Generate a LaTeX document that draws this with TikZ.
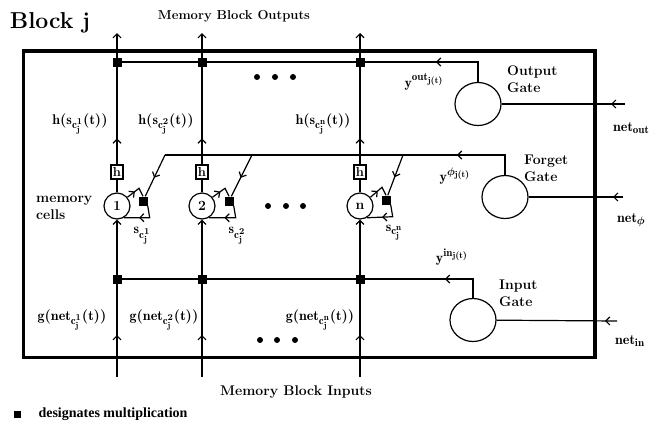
\documentclass[tikz,border=0pt]{standalone}
\usepackage{amsmath}
\usepackage{fontspec}
\newfontfamily\legendfont{Liberation Serif}
\DeclareMathSizes{14}{14}{11}{9}
\usetikzlibrary{arrows.meta, calc, shapes.geometric, decorations.markings}

\begin{document}
\begin{tikzpicture}[
    x=1pt, y=-1pt,
    >={Straight Barb[length=4pt,width=8pt]},
    wire/.style={line width=1.2pt},
    blockframe/.style={line width=3.5pt},
    mult/.style={fill=black, minimum size=9pt, inner sep=0pt},
    cell/.style={circle, draw, line width=1.2pt, minimum size=26pt, inner sep=0pt, font=\fontsize{14}{16}\selectfont\bfseries},
    hbox/.style={draw, line width=1.2pt, minimum width=12pt, minimum height=14pt, inner sep=0pt, font=\fontsize{13}{15}\selectfont\bfseries},
    gate/.style={ellipse, draw, line width=1.2pt, minimum width=46pt, minimum height=43pt},
    lab/.style={font=\fontsize{14}{17}\selectfont\bfseries\boldmath, inner sep=0pt},
    midarrow/.style={postaction={decorate}, decoration={markings, mark=at position #1 with {\arrow{>}}}}
]
\useasboundingbox (0,0) rectangle (655,421);

% Title and headings
\node[font=\fontsize{23}{26}\selectfont\bfseries] (title) at (50,23) {Block j};
\node[font=\fontsize{13}{15}\selectfont\bfseries] (outputs) at (234,16) {Memory Block Outputs};
\node[font=\fontsize{14}{16}\selectfont\bfseries] (inputs) at (296,392) {Memory Block Inputs};

% Memory block frame
\draw[blockframe] (23.5,51) rectangle (595,357.5);

% Memory cell 1
\node[mult] (omult1) at (117,62) {};
\node[hbox] (hbox1) at (117,172) {h};
\node[cell] (cell1) at (117,206) {1};
\node[mult] (fmult1) at (143,201) {};
\node[mult] (imult1) at (117,279) {};
\coordinate (top1) at (117,33);
\coordinate (bot1) at (117,377);
\coordinate (fork1) at (165,155);

% Memory cell 2
\node[mult] (omult2) at (202,62) {};
\node[hbox] (hbox2) at (202,172) {h};
\node[cell] (cell2) at (202,206) {2};
\node[mult] (fmult2) at (229,201) {};
\node[mult] (imult2) at (202,279) {};
\coordinate (top2) at (202,33);
\coordinate (bot2) at (202,377);
\coordinate (fork2) at (252,155);

% Memory cell n
\node[mult] (omultn) at (360,62) {};
\node[hbox] (hboxn) at (360,172) {h};
\node[cell] (celln) at (360,206) {n};
\node[mult] (fmultn) at (386,200) {};
\node[mult] (imultn) at (360,279) {};
\coordinate (topn) at (360,33);
\coordinate (botn) at (360,377);
\coordinate (forkn) at (403,155);

% Gates
\node[gate] (ogate) at (478,104) {};
\node[gate] (fgate) at (505,197) {};
\node[gate] (igate) at (473,320) {};
\coordinate (nout) at (625,104);
\coordinate (nphi) at (623,197);
\coordinate (nin) at (617,321);

% Cell columns: input -> cell -> h -> output
\draw[wire, ->, midarrow=42pt] (bot1) -- (cell1);
\draw[wire] (cell1) -- (hbox1);
\draw[wire, ->, midarrow=26pt] (hbox1) -- (top1);
\draw[wire, ->, midarrow=42pt] (bot2) -- (cell2);
\draw[wire] (cell2) -- (hbox2);
\draw[wire, ->, midarrow=26pt] (hbox2) -- (top2);
\draw[wire, ->, midarrow=42pt] (botn) -- (celln);
\draw[wire] (celln) -- (hboxn);
\draw[wire, ->, midarrow=26pt] (hboxn) -- (topn);

% Self-recurrent loops through forget multiplication
\draw[wire, midarrow=0.4] (cell1.40) -- ($(fmult1.north)+(-4,-8)$) -- (fmult1.north);
\draw[wire, midarrow=0.6] (fmult1.south east) -- ++(2,12) -- (cell1.-60);
\draw[wire, midarrow=0.4] (cell2.40) -- ($(fmult2.north)+(-4,-8)$) -- (fmult2.north);
\draw[wire, midarrow=0.6] (fmult2.south east) -- ++(2,12) -- (cell2.-60);
\draw[wire, midarrow=0.4] (celln.40) -- ($(fmultn.north)+(-4,-8)$) -- (fmultn.north);
\draw[wire, midarrow=0.6] (fmultn.south east) -- ++(2,12) -- (celln.-60);

% Gate activations
\draw[wire, midarrow=62pt] (ogate) |- (omult1);
\draw[wire, midarrow=68pt] (fgate) |- (fork1);
\draw[wire, midarrow=47pt] (igate) |- (imult1);
\draw[wire, midarrow=0.55] (fork1) -- (fmult1);
\draw[wire, midarrow=0.55] (fork2) -- (fmult2);
\draw[wire, midarrow=0.55] (forkn) -- (fmultn);

% Gate net inputs
\draw[wire, midarrow=14pt] (nout) -- (ogate);
\draw[wire, midarrow=10pt] (nphi) -- (fgate);
\draw[wire, midarrow=12pt] (nin) -- (igate);

% Labels
\node[lab] (hlab1) at (80,124) {$\mathrm{h(s}_{\mathrm{c}^{1}_{\mathrm{j}}}\mathrm{(t))}$};
\node[lab] (hlab2) at (166,124) {$\mathrm{h(s}_{\mathrm{c}^{2}_{\mathrm{j}}}\mathrm{(t))}$};
\node[lab] (hlabn) at (323,124) {$\mathrm{h(s}_{\mathrm{c}^{\mathrm{n}}_{\mathrm{j}}}\mathrm{(t))}$};
\node[lab] (glab1) at (72,320) {$\mathrm{g(net}_{\mathrm{c}^{1}_{\mathrm{j}}}\mathrm{(t))}$};
\node[lab] (glab2) at (164,320) {$\mathrm{g(net}_{\mathrm{c}^{2}_{\mathrm{j}}}\mathrm{(t))}$};
\node[lab] (glabn) at (320,320) {$\mathrm{g(net}_{\mathrm{c}^{\mathrm{n}}_{\mathrm{j}}}\mathrm{(t))}$};
\node[lab] (slab1) at (142,236) {$\mathrm{s}_{\mathrm{c}^{1}_{\mathrm{j}}}$};
\node[lab] (slab2) at (237,236) {$\mathrm{s}_{\mathrm{c}^{2}_{\mathrm{j}}}$};
\node[lab] (slabn) at (394,233) {$\mathrm{s}_{\mathrm{c}^{\mathrm{n}}_{\mathrm{j}}}$};
\node[lab, align=left, anchor=west] (cells) at (36,208) {memory\\cells};
\node[lab, align=left, anchor=west] (olab) at (507,79) {Output\\Gate};
\node[lab, align=left, anchor=west] (flab) at (524,168) {Forget\\Gate};
\node[lab, align=left, anchor=west] (ilab) at (499,293) {Input\\Gate};
\node[lab] (yout) at (424,82) {$\mathrm{y}^{\mathrm{out}_{\mathrm{j(t)}}}$};
\node[lab] (yphi) at (455,176) {$\mathrm{y}^{\phi_{\mathrm{j(t)}}}$};
\node[lab] (yin) at (452,257) {$\mathrm{y}^{\mathrm{in}_{\mathrm{j(t)}}}$};
\node[lab, anchor=west] (netout) at (613,128) {$\mathrm{net}_{\mathrm{out}}$};
\node[lab, anchor=west] (netphi) at (617,220) {$\mathrm{net}_{\phi}$};
\node[lab, anchor=west] (netin) at (615,341) {$\mathrm{net}_{\mathrm{in}}$};

% Ellipsis dots
\fill (257,77) circle (3pt) (275,77) circle (3pt) (293,77) circle (3pt);
\fill (268,206) circle (3pt) (286,206) circle (3pt) (303,206) circle (3pt);
\fill (260,340) circle (3pt) (277,340) circle (3pt) (295,340) circle (3pt);

% Legend
\node[fill=black, minimum size=7pt, inner sep=0pt] (key) at (17,414) {};
\node[font=\fontsize{14}{16}\selectfont\legendfont\bfseries, anchor=west] (keytext) at (35,414) {designates multiplication};

\end{tikzpicture}
\end{document}
